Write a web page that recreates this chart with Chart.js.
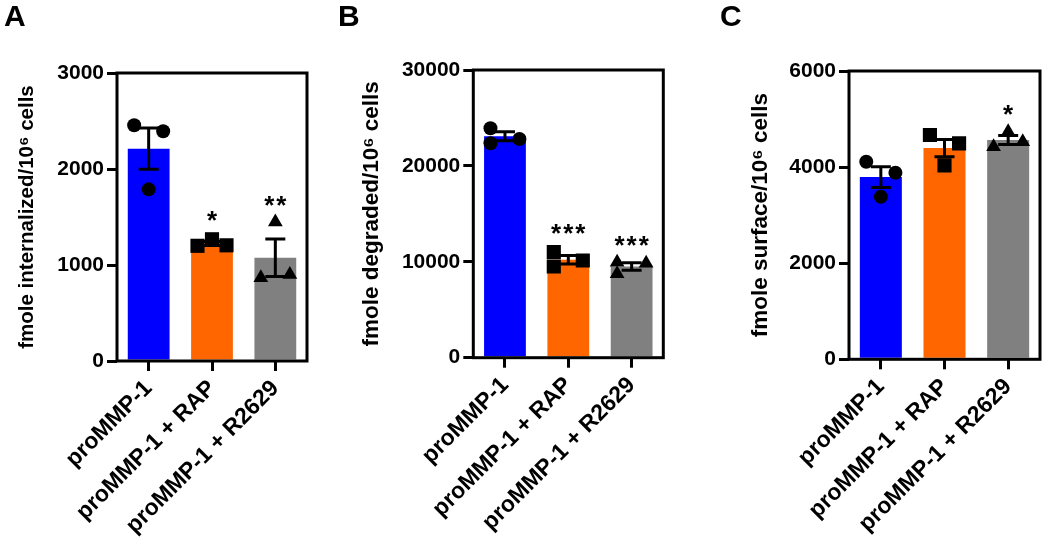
<!DOCTYPE html>
<html><head><meta charset="utf-8">
<script src="https://cdn.jsdelivr.net/npm/chart.js@4.4.0/dist/chart.umd.min.js"></script>
<style>
html,body{margin:0;padding:0;background:#fff;width:1050px;height:549px;overflow:hidden;}
.panel{position:absolute;top:0;height:549px;}
</style></head><body>
<div class="panel" style="left:0;width:336px"><canvas id="cA"></canvas></div>
<div class="panel" style="left:336px;width:350px"><canvas id="cB"></canvas></div>
<div class="panel" style="left:686px;width:364px"><canvas id="cC"></canvas></div>
<script>
// ---- data ----
const categories = ['proMMP-1', 'proMMP-1 + RAP', 'proMMP-1 + R2629'];
const panelLetters = ['A', 'B', 'C'];
const yTitles = ['fmole internalized/10\u2076 cells', 'fmole degraded/10\u2076 cells', 'fmole surface/10\u2076 cells'];

const yTicksA = [0, 1000, 2000, 3000];
const yTicksB = [0, 10000, 20000, 30000];
const yTicksC = [0, 2000, 4000, 6000];

const meanA = [2212, 1224, 1075];
const semA  = [215, 22, 195];
const meanB = [23100, 10220, 9520];
const semB  = [470, 440, 390];
const meanC = [3793, 4395, 4564];
const semC  = [215, 180, 92];

// replicate values per group
const pointsA = [[2455, 1788, 2393], [1200, 1268, 1205], [868, 1448, 900]];
const pointsB = [[23920, 22356, 22800], [11022, 9510, 10135], [9950, 8750, 9850]];
const pointsC = [[4112, 3384, 3883], [4668, 4037, 4495], [4425, 4737, 4529]];

const sigA = ['', '*', '**'];
const sigB = ['', '***', '***'];
const sigC = ['', '', '*'];

// ---- styles / layout ----
const barColors = ['#0000ff', '#ff6600', '#808080'];
const markerStyles = ['circle', 'rect', 'triangle'];
const markerRadius = [7, 10, 8.5];
const FONT = '"Liberation Sans", Arial, Helvetica, sans-serif';
Chart.defaults.color = '#000';
Chart.defaults.font.family = FONT;

const errorBarPlugin = {
  id: 'errorBars',
  afterDatasetDraw(chart, args, opts) {
    if (args.index !== 0) return;
    const ctx = chart.ctx, y = chart.scales.y;
    ctx.save();
    ctx.strokeStyle = '#000';
    ctx.lineWidth = 3;
    args.meta.data.forEach((bar, i) => {
      const m = opts.mean[i], s = opts.sem[i];
      const yt = y.getPixelForValue(m + s), yb = y.getPixelForValue(m - s);
      ctx.beginPath();
      ctx.moveTo(bar.x, yt); ctx.lineTo(bar.x, yb);
      ctx.moveTo(bar.x - 10, yt); ctx.lineTo(bar.x + 10, yt);
      ctx.moveTo(bar.x - 10, yb); ctx.lineTo(bar.x + 10, yb);
      ctx.stroke();
    });
    ctx.restore();
  }
};

const framePlugin = {
  id: 'frameAndLabels',
  afterDatasetsDraw(chart, args, opts) {
    const ctx = chart.ctx, a = chart.chartArea, y = chart.scales.y;
    ctx.save();
    ctx.strokeStyle = '#000';
    ctx.lineWidth = 3;
    ctx.strokeRect(a.left, a.top, a.right - a.left, a.bottom - a.top);
    // significance stars
    ctx.fillStyle = '#000';
    ctx.font = 'bold 26px ' + FONT;
    ctx.textAlign = 'center';
    ctx.textBaseline = 'middle';
    try { ctx.letterSpacing = '2px'; } catch (e) {}
    const bars = chart.getDatasetMeta(0).data;
    opts.sig.forEach((s, i) => {
      if (!s) return;
      const top = Math.max(...opts.points[i], opts.mean[i] + opts.sem[i]);
      const py = y.getPixelForValue(top) - markerRadius[i] - 7;
      ctx.fillText(s, bars[i].x + 1, py);
    });
    ctx.restore();
  },
  afterDraw(chart, args, opts) {
    const ctx = chart.ctx;
    ctx.save();
    ctx.fillStyle = '#000';
    ctx.font = 'bold 30px ' + FONT;
    ctx.textAlign = 'left';
    ctx.textBaseline = 'alphabetic';
    ctx.fillText(opts.letter, opts.lx, opts.ly);
    ctx.restore();
  }
};

function makePanel(id, p) {
  const slotWidth = 0.229;
  const datasets = [{
    type: 'bar',
    data: p.mean,
    backgroundColor: barColors,
    borderWidth: 0,
    grouped: false,
    barPercentage: 0.66,
    categoryPercentage: 1,
    order: 2
  }];
  p.points.forEach((vals, g) => {
    datasets.push({
      type: 'scatter',
      xAxisID: 'xs',
      data: vals.map((v, k) => ({ x: g + p.slots[k] * slotWidth, y: v })),
      pointStyle: markerStyles[g],
      pointRadius: markerRadius[g],
      pointBackgroundColor: '#000',
      pointBorderWidth: 0,
      order: 1
    });
  });
  return new Chart(document.getElementById(id), {
    type: 'bar',
    data: { labels: categories, datasets },
    options: {
      responsive: true,
      maintainAspectRatio: false,
      animation: false,
      events: [],
      layout: { padding: { left: p.padLeft, top: p.padTop, right: p.padRight, bottom: 0 } },
      plugins: {
        legend: { display: false },
        tooltip: { enabled: false },
        errorBars: { mean: p.mean, sem: p.sem },
        frameAndLabels: { sig: p.sig, points: p.points, mean: p.mean, sem: p.sem, letter: p.letter, lx: p.lx, ly: p.ly }
      },
      scales: {
        x: {
          type: 'category',
          offset: true,
          afterFit: s => { s.height = p.xHeight; },
          border: { display: false },
          grid: { display: true, offset: false, drawOnChartArea: false, drawTicks: true, tickLength: 10, tickWidth: 3, tickColor: '#000', color: '#000', lineWidth: 3 },
          ticks: { autoSkip: false, minRotation: 45, maxRotation: 45, padding: 4, color: '#000', font: { family: FONT, size: 23, weight: 'bold' } }
        },
        xs: { type: 'linear', display: false, min: -0.5, max: 2.5, offset: false },
        y: {
          min: p.ticks[0],
          max: p.ticks[p.ticks.length - 1],
          afterFit: s => { s.width = p.yWidth; },
          afterBuildTicks: s => { s.ticks = p.ticks.map(v => ({ value: v })); },
          border: { display: false },
          grid: { display: true, drawOnChartArea: false, drawTicks: true, tickLength: 10, tickWidth: 3, tickColor: '#000', color: '#000', lineWidth: 3 },
          ticks: { padding: 3, color: '#000', font: { family: FONT, size: 21, weight: 'bold' }, callback: v => String(v) },
          title: { display: true, text: p.title, color: '#000', padding: { top: 0, bottom: 0 }, font: { family: FONT, size: p.titleSize, weight: 'bold' } }
        }
      }
    },
    plugins: [errorBarPlugin, framePlugin]
  });
}

makePanel('cA', { mean: meanA, sem: semA, points: pointsA, sig: sigA, ticks: yTicksA, title: yTitles[0], letter: panelLetters[0], titleSize: 20.5,
  slots: [-1, 0, 1], lx: 4, ly: 26, padLeft: 14.7, yWidth: 102.3, padTop: 73, padRight: 29, xHeight: 188 });
makePanel('cB', { mean: meanB, sem: semB, points: pointsB, sig: sigB, ticks: yTicksB, title: yTitles[1], letter: panelLetters[1], titleSize: 22.5,
  slots: [-1, -1, 1], lx: 2, ly: 26, padLeft: 22.5, yWidth: 114.8, padTop: 70, padRight: 22.7, xHeight: 191.3 });
makePanel('cC', { mean: meanC, sem: semC, points: pointsC, sig: sigC, ticks: yTicksC, title: yTitles[2], letter: panelLetters[2], titleSize: 22.5,
  slots: [-1, 0, 1], lx: 34, ly: 26, padLeft: 61.5, yWidth: 101.5, padTop: 71, padRight: 8.3, xHeight: 189.7 });
</script>
</body></html>
